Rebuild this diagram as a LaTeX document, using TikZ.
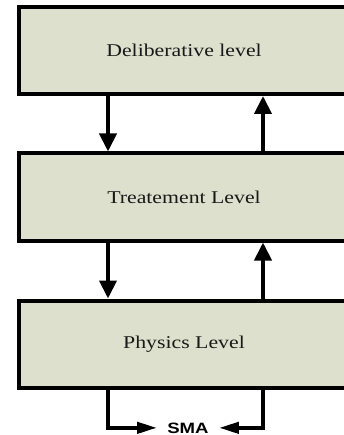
\documentclass[tikz,border=0pt]{standalone}
\usepackage{fontspec}
\setmainfont{Liberation Serif}
\newfontfamily\smafont{Liberation Sans}
\usetikzlibrary{arrows.meta}
\definecolor{boxfill}{RGB}{221,224,204}
\definecolor{txt}{RGB}{25,25,25}
\begin{document}
\begin{tikzpicture}[x=1pt,y=-1pt,
  level/.style={draw=black, line width=4pt, fill=boxfill, minimum width=330pt,
    minimum height=87pt, inner sep=0pt, text=txt,
    font=\fontsize{18}{20}\selectfont},
  flow/.style={line width=4pt, -{Triangle[length=18pt,width=17pt]}},
  smaflow/.style={line width=4pt, -{Triangle[length=20pt,width=11pt]}},
  smalabel/.style={inner xsep=10pt, inner ysep=0pt, text=black,
    font=\smafont\bfseries\fontsize{15}{17}\selectfont}]
\useasboundingbox (0,0) rectangle (343,435);
\node[level] (delib) at (184,50.5) {\scalebox{1.21}[1]{Deliberative level}};
\node[level] (treat) at (184,197) {\scalebox{1.21}[1]{Treatement Level}};
\node[level] (phys) at (184,344) {\scalebox{1.21}[1]{Physics Level}};
\node[smalabel, anchor=base] (sma) at (188,433) {\scalebox{1.24}[1]{SMA}};
\draw[flow] ([xshift=-76pt]delib.south) -- ([xshift=-76pt]treat.north);
\draw[flow] ([xshift=79pt]treat.north) -- ([xshift=79pt]delib.south);
\draw[flow] ([xshift=-76pt]treat.south) -- ([xshift=-76pt]phys.north);
\draw[flow] ([xshift=79pt]phys.north) -- ([xshift=79pt]treat.south);
\draw[smaflow] ([xshift=-76pt]phys.south) |- (sma.west);
\draw[smaflow] ([xshift=79pt]phys.south) |- (sma.east);
\end{tikzpicture}
\end{document}
